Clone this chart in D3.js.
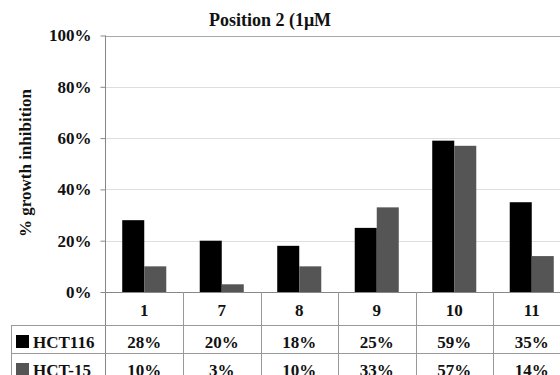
<!DOCTYPE html>
<html><head><meta charset="utf-8">
<script src="https://cdn.jsdelivr.net/npm/d3@7"></script>
<style>html,body{margin:0;padding:0;background:#fff;overflow:hidden}svg{display:block}</style>
</head><body>
<script>
const categories = ["1","7","8","9","10","11"];
const seriesNames = ["HCT116","HCT-15"];
const hct116 = [28,20,18,25,59,35];
const hct15 = [10,3,10,33,57,14];
const yTicks = [0,20,40,60,80,100];
const colors = ["#000000","#555555"];
const font = "Liberation Serif";

(function () {
const W = 560, H = 375;
const svg = d3.select("body").append("svg").attr("width", W).attr("height", H);

const pLeft = 105.5, pRight = 570.5, pTop = 35.5, base = 292;
const x = d3.scaleBand().domain(categories).range([pLeft, pRight]).paddingInner(0).paddingOuter(0);
const x1 = d3.scaleBand().domain(seriesNames).range([0, x.bandwidth()]).paddingInner(0).paddingOuter(0.76);
const y = d3.scaleLinear().domain([0, 100]).range([base, pTop]);

function txt(sel, size) {
  return sel.attr("font-family", font).attr("font-weight", "bold").attr("font-size", size).attr("fill", "#111");
}

svg.append("g").selectAll("line").data(yTicks.filter(t => t > 0)).join("line")
  .attr("x1", pLeft).attr("x2", W)
  .attr("y1", d => Math.round(y(d)) + 0.5).attr("y2", d => Math.round(y(d)) + 0.5)
  .attr("stroke", d => d === 100 ? "#a8a8a8" : "#dedede").attr("stroke-width", 1);

const data = categories.map((c, i) => ({c, vals: [hct116[i], hct15[i]]}));
const g = svg.append("g");
data.forEach(d => {
  d.vals.forEach((v, j) => {
    g.append("rect")
      .attr("x", x(d.c) + x1(seriesNames[j]))
      .attr("width", x1.bandwidth())
      .attr("y", y(v))
      .attr("height", base - y(v))
      .attr("fill", colors[j]);
  });
});

const yAxis = d3.axisLeft(y).tickValues(yTicks).tickFormat(d => d + "%").tickSize(5).tickPadding(9);
const ya = svg.append("g").attr("transform", `translate(${pLeft},0)`).call(yAxis);
ya.select(".domain").remove();
ya.selectAll(".tick line").attr("stroke", "#888");
txt(ya.selectAll(".tick text"), 17);

const lineColor = "#999";
svg.append("line").attr("x1", pLeft).attr("x2", pLeft).attr("y1", pTop).attr("y2", H + 10).attr("stroke", "#888");
svg.append("line").attr("x1", pLeft).attr("x2", W).attr("y1", base + 0.5).attr("y2", base + 0.5).attr("stroke", "#888");
svg.append("g").selectAll("line").data(categories.slice(1)).join("line")
  .attr("x1", d => Math.round(x(d)) + 0.5).attr("x2", d => Math.round(x(d)) + 0.5)
  .attr("y1", base).attr("y2", H + 10).attr("stroke", lineColor);

const rowTops = [325, 353];
const tableLeft = 11;
svg.append("g").selectAll("line").data(rowTops).join("line")
  .attr("x1", tableLeft).attr("x2", W).attr("y1", d => d + 0.5).attr("y2", d => d + 0.5).attr("stroke", lineColor);
svg.append("line").attr("x1", tableLeft + 0.5).attr("x2", tableLeft + 0.5).attr("y1", rowTops[0]).attr("y2", H + 10).attr("stroke", lineColor);

txt(svg.append("g").selectAll("text").data(categories).join("text")
  .attr("x", d => x(d) + x.bandwidth() / 2).attr("y", 315.5)
  .attr("text-anchor", "middle").text(d => d), 17);

[hct116, hct15].forEach((vals, j) => {
  const rowBase = rowTops[j] + 22.5;
  txt(svg.append("g").selectAll("text").data(vals).join("text")
    .attr("x", (d, i) => x(categories[i]) + x.bandwidth() / 2).attr("y", rowBase)
    .attr("text-anchor", "middle").text(d => d + "%"), 17);
  svg.append("rect").attr("x", 16).attr("y", rowTops[j] + 10).attr("width", 13).attr("height", 13).attr("fill", colors[j]);
  txt(svg.append("text").attr("x", 33).attr("y", rowBase).text(seriesNames[j]), 17);
});

txt(svg.append("text").attr("x", 270).attr("y", 26).attr("text-anchor", "middle").text("Position 2 (1μM"), 18);

txt(svg.append("text").attr("transform", "translate(31,163) rotate(-90)").attr("text-anchor", "middle")
  .text("% growth inhibition"), 17);
})();
</script>
</body></html>
